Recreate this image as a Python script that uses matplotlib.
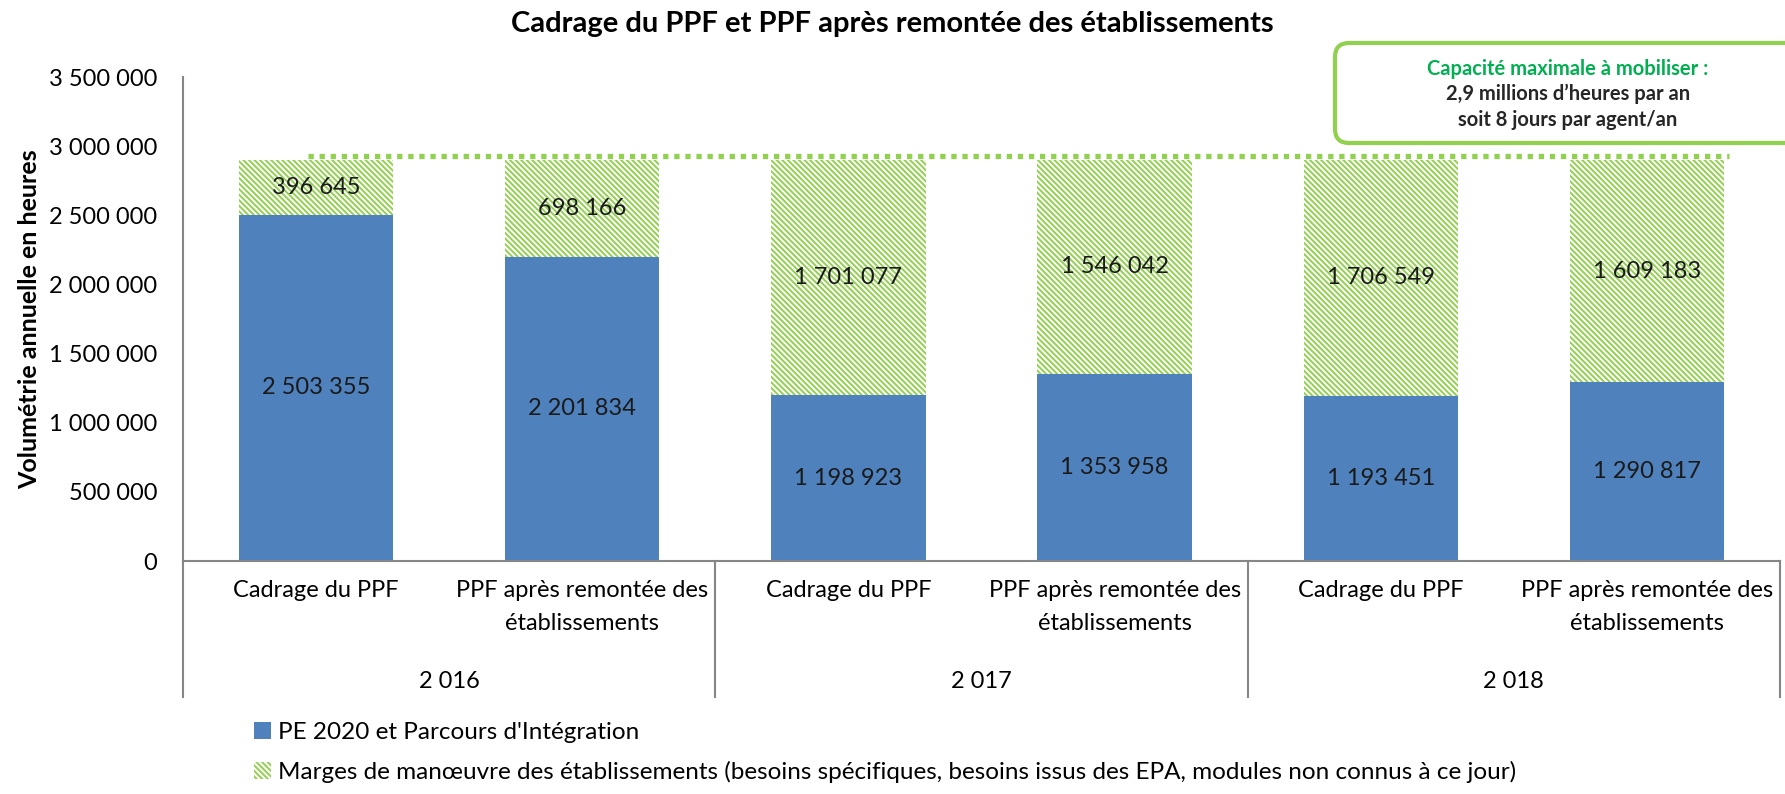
import matplotlib
matplotlib.use("Agg")
import matplotlib.pyplot as plt
from matplotlib.patches import FancyBboxPatch, Patch
from matplotlib.transforms import blended_transform_factory, IdentityTransform

plt.rcParams['font.family'] = ['Lato', 'DejaVu Sans']
plt.rcParams['hatch.linewidth'] = 1.4

# data
years = ['2 016', '2 017', '2 018']
categories = ['Cadrage du PPF', 'PPF après remontée des\nétablissements'] * 3
pe2020 = [2503355, 2201834, 1198923, 1353958, 1193451, 1290817]
marges = [396645, 698166, 1701077, 1546042, 1706549, 1609183]
capacite = 2930000
series_names = ["PE 2020 et Parcours d'Intégration",
                "Marges de manœuvre des établissements (besoins spécifiques, "
                "besoins issus des EPA, modules non connus à ce jour)"]
title = "Cadrage du PPF et PPF après remontée des établissements"
ylabel = "Volumétrie annuelle en heures"
note = ["Capacité maximale à mobiliser :",
        "2,9 millions d\u2019heures par an",
        "soit 8 jours par agent/an"]

blue = '#4F81BD'
green = '#92D050'
grey = '#868686'
hatch = '\\' * 6
W, H = 1785, 794


def fmt(v):
    return f"{v:,}".replace(",", " ")


fig = plt.figure(figsize=(W / 100, H / 100), dpi=100)
ax = fig.add_axes([183 / W, 1 - 561 / H, (1780 - 183) / W, 484 / H])

x = list(range(len(pe2020)))
bw = 0.58
b1 = ax.bar(x, pe2020, width=bw, color=blue, linewidth=0)
b2 = ax.bar(x, marges, bottom=pe2020, width=bw, color='white',
            edgecolor=green, hatch=hatch, linewidth=0)
ax.bar_label(b1, labels=[fmt(v) for v in pe2020], label_type='center',
             fontsize=17, color='#1a1a1a')
ax.bar_label(b2, labels=[fmt(v) for v in marges], label_type='center',
             fontsize=17, color='#1a1a1a')

# capacity line
ax.plot([x[0] - 0.03, x[-1] + bw / 2 + 0.02], [capacite, capacite], color=green,
        lw=3.8, linestyle=(0, (1.0, 1.1)), dash_capstyle='butt')

ax.set_xlim(-0.5, len(x) - 0.5)
ax.set_ylim(0, 3500000)
ax.set_yticks(range(0, 3500001, 500000))
ax.set_yticklabels([fmt(v) for v in range(0, 3500001, 500000)], fontsize=17)
ax.tick_params(axis='y', length=0, pad=18.5)
ax.set_xticks(x)
ax.set_xticklabels(categories, fontsize=17, linespacing=1.7)
ax.tick_params(axis='x', length=0, pad=14)

for s in ['top', 'right']:
    ax.spines[s].set_visible(False)
for s in ['left', 'bottom']:
    ax.spines[s].set_color(grey)
    ax.spines[s].set_linewidth(1.5)

trans = blended_transform_factory(ax.transData, ax.transAxes)
for k in range(len(years) + 1):
    ax.plot([2 * k - 0.5, 2 * k - 0.5], [0, -0.281], transform=trans,
            color=grey, lw=1.5, clip_on=False)
for k, yr in enumerate(years):
    ax.text(2 * k + 0.5, -0.25, yr, transform=trans, ha='center', va='center',
            fontsize=17)

fig.text(0.5, 1 - 24 / H, title, ha='center', va='center', fontsize=21,
         fontweight='bold')
fig.text(30 / W, 1 - 319 / H, ylabel, rotation=90, ha='center', va='center',
         fontsize=18, fontweight='bold')

# note box
box = FancyBboxPatch((1335, H - 143), 480, 100,
                     boxstyle='round,pad=0,rounding_size=14',
                     transform=IdentityTransform(), facecolor='white',
                     edgecolor=green, lw=3, clip_on=False)
fig.patches.append(box)
fig.text(1568 / W, 1 - 69 / H, note[0], ha='center', va='center', fontsize=14.5,
         fontweight='bold', color='#00B050')
fig.text(1568 / W, 1 - 94 / H, note[1], ha='center', va='center', fontsize=14.5,
         fontweight='bold', color='#262626')
fig.text(1568 / W, 1 - 120 / H, note[2], ha='center', va='center', fontsize=14.5,
         fontweight='bold', color='#262626')

handles = [Patch(facecolor=blue, linewidth=0),
           Patch(facecolor='white', edgecolor=green, hatch=hatch, linewidth=0)]
fig.legend(handles, series_names, loc='upper left', bbox_to_anchor=(254 / W, 1 - 722 / H),
           frameon=False, fontsize=17.5, handlelength=0.7, handleheight=0.7,
           handletextpad=0.3, labelspacing=0.72, borderaxespad=0, borderpad=0)

fig.savefig('out.png', dpi=100)
